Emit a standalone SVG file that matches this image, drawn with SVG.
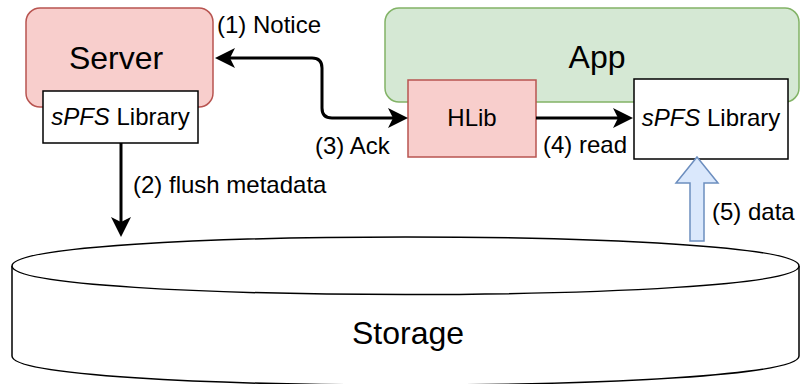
<svg xmlns="http://www.w3.org/2000/svg" width="800" height="384" viewBox="0 0 800 384">
  <style>
    text { font-family: "Liberation Sans", Arial, Helvetica, sans-serif; fill: #000; }
    .title { font-size: 32px; text-anchor: middle; }
    .lbl { font-size: 24px; }
    .mid { text-anchor: middle; }
    .red { fill: #f8cecc; stroke: #b85450; stroke-width: 1.5; }
    .green { fill: #d5e8d4; stroke: #82b366; stroke-width: 1.5; }
    .plain { fill: #ffffff; stroke: #000000; stroke-width: 1.5; }
    .edge { fill: none; stroke: #000; stroke-width: 3; }
    .block { fill: #dae8fc; stroke: #6c8ebf; stroke-width: 1.5; }
  </style>
  <defs>
    <marker id="arrow" markerUnits="userSpaceOnUse" markerWidth="22" markerHeight="22" viewBox="0 0 22 22" refX="6" refY="11" orient="auto-start-reverse">
      <path d="M1,1 L21,11 L1,21 L6,11 Z" fill="#000"/>
    </marker>
  </defs>

  <!-- Storage cylinder -->
  <g id="storage">
    <path class="plain" d="M12,266 C12,227.3 799,227.3 799,266 L799,356 C799,394.7 12,394.7 12,356 Z"/>
    <path class="plain" fill="none" d="M12,266 C12,304 799,304 799,266"/>
    <text class="title" x="408" y="344">Storage</text>
  </g>

  <!-- Server with its library -->
  <g id="server">
    <rect class="red" x="26" y="8" width="187" height="99" rx="14" ry="14"/>
    <text class="title" x="116" y="69">Server</text>
  </g>
  <g id="server-lib">
    <rect class="plain" x="43" y="91" width="155" height="52"/>
    <text class="lbl mid" x="120.5" y="125"><tspan font-style="italic">sPFS</tspan> Library</text>
  </g>

  <!-- App with HLib and its library -->
  <g id="app">
    <rect class="green" x="385" y="8" width="414" height="94" rx="14" ry="14"/>
    <text class="title" x="597" y="68">App</text>
  </g>
  <g id="hlib">
    <rect class="red" x="408" y="80" width="128" height="77"/>
    <text class="lbl mid" x="472" y="126">HLib</text>
  </g>
  <g id="app-lib">
    <rect class="plain" x="634" y="79" width="154" height="80"/>
    <text class="lbl mid" x="711" y="126"><tspan font-style="italic">sPFS</tspan> Library</text>
  </g>

  <!-- Connectors -->
  <g id="connectors">
    <path class="edge" d="M230,58 H312 Q322,58 322,68 V108 Q322,118 332,118 H393" marker-start="url(#arrow)" marker-end="url(#arrow)"/>
    <path class="edge" d="M536,118 H618" marker-end="url(#arrow)"/>
    <path class="edge" d="M121,143 V222" marker-end="url(#arrow)"/>
    <polygon class="block" points="697,157 718,183 704,183 704,241 690,241 690,183 676,183"/>
    <text class="lbl" x="217" y="33">(1) Notice</text>
    <text class="lbl" x="315" y="154">(3) Ack</text>
    <text class="lbl" x="133" y="193">(2) flush metadata</text>
    <text class="lbl" x="543" y="153">(4) read</text>
    <text class="lbl" x="712" y="220">(5) data</text>
  </g>
</svg>
